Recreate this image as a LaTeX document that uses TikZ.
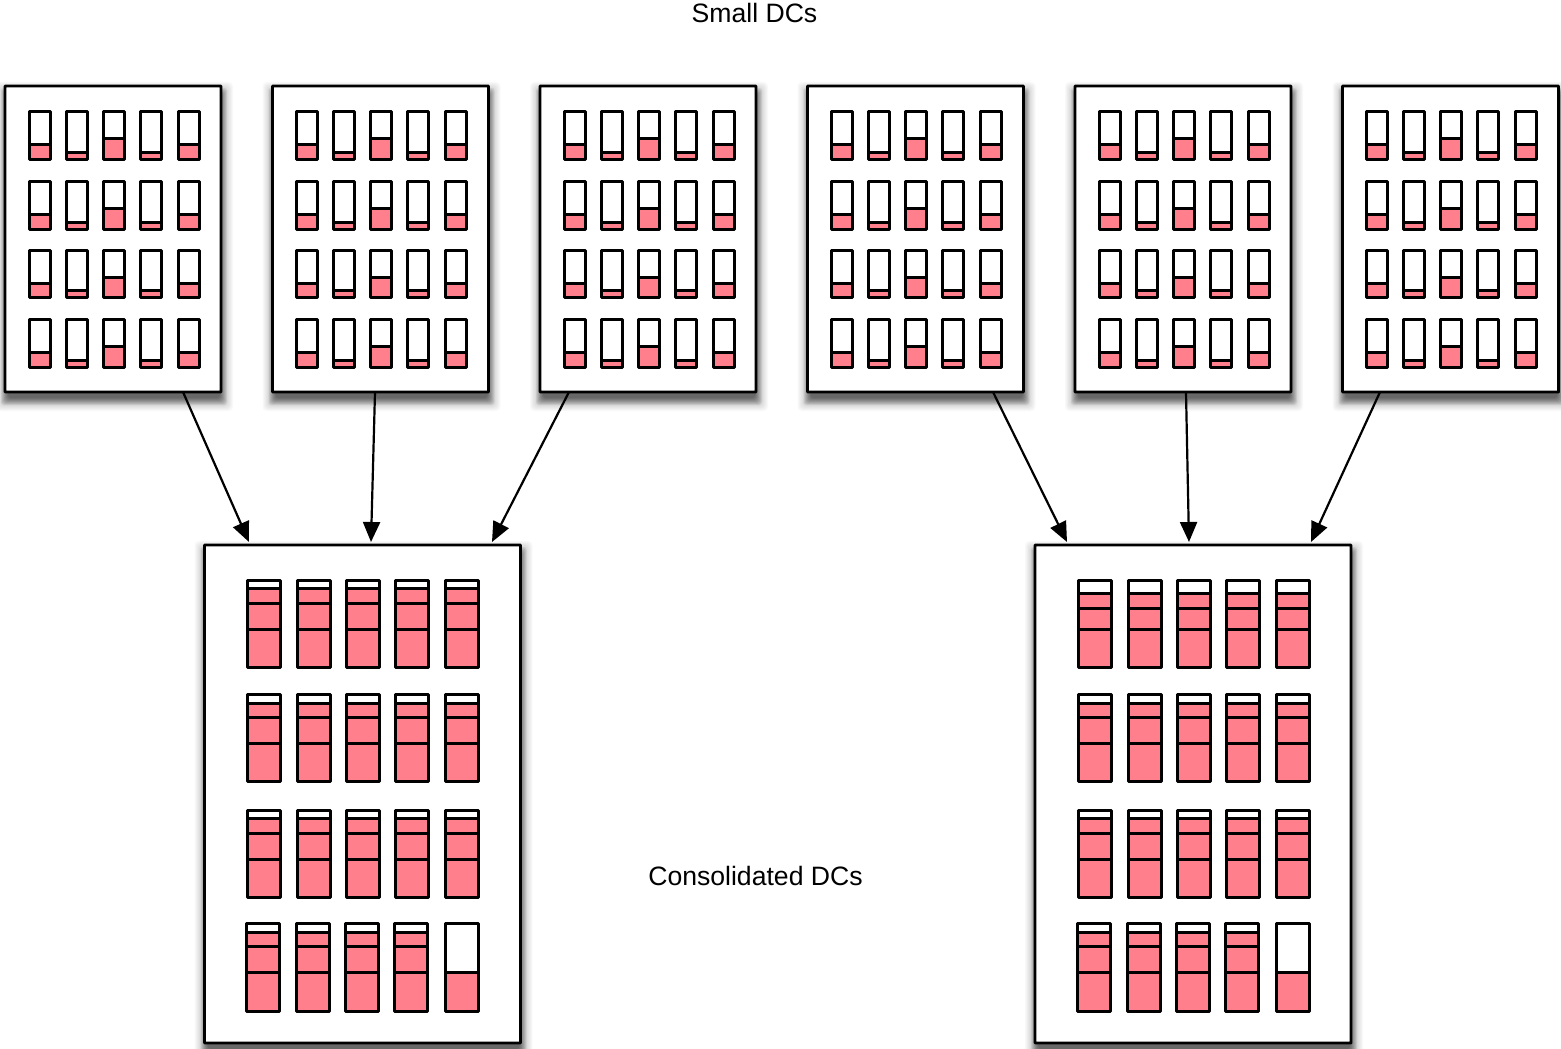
\documentclass[tikz,border=0pt]{standalone}
\usepackage{fontspec}
\setmainfont{Liberation Sans}
\usetikzlibrary{arrows.meta}
\definecolor{rackpink}{HTML}{FF808C}
\tikzset{
  dcbox/.style={draw=black,fill=white,line width=2.8pt,inner sep=0pt,outer sep=0pt,anchor=north west,rounded corners=0.5pt},
  smalldc/.style={dcbox,minimum width=216pt,minimum height=306pt},
  bigdc/.style={dcbox,minimum width=316pt,minimum height=498pt},
  rackline/.style={draw=black,line width=3pt,line join=round},
  smallrackline/.style={draw=black,line width=3pt,line join=round},
  flow/.style={draw=black,line width=2.2pt,-{Triangle[length=20pt,width=17pt]}},
  lbl/.style={font=\fontsize{26.6pt}{30pt}\selectfont,inner sep=0pt}
}
\newcommand{\softshadow}[4]{% x1 y1 x2 y2
  \foreach \r in {12,11,10,9,8,7}{
    \fill[black,opacity=0.025,rounded corners=4pt] (#1-\r+2,#2+8-\r) rectangle (#3+\r,#4+7+\r);
  }
  \foreach \r in {6,5,4,3,2,1,0,-1}{
    \fill[black,opacity=0.085,rounded corners=3pt] (#1-\r+2,#2+8-\r) rectangle (#3+\r,#4+7+\r);
  }
}
\newcommand{\smallrack}[5]{% x1 x2 top bot level
  \fill[white] (#1+1,#3+1) rectangle (#2-1,#4-1);
  \fill[rackpink] (#1+1,#5) rectangle (#2-1,#4-1);
  \draw[smallrackline] (#1+1,#5) -- (#2-1,#5);
  \draw[smallrackline] (#1+1,#3+1) rectangle (#2-1,#4-1);
}
\newcommand{\smalldcfill}[1]{% rack origin = box left edge, whole pixel
  \foreach \top/\bot/\hA/\hB/\hC in {110/160/16/8/22,180/230/16/8/22,249/298/15/8/21,318/368/16/8/22}{
    \smallrack{#1+23}{#1+46}{\top}{\bot}{\bot-\hA}
    \smallrack{#1+60}{#1+83}{\top}{\bot}{\bot-\hB}
    \smallrack{#1+97}{#1+120}{\top}{\bot}{\bot-\hC}
    \smallrack{#1+134}{#1+157}{\top}{\bot}{\bot-\hB}
    \smallrack{#1+172}{#1+195}{\top}{\bot}{\bot-\hA}
  }
}
\newcommand{\bigrack}[6]{% x top bot a b c
  \fill[white] (#1+1,#2+1) rectangle (#1+34,#3-1);
  \fill[rackpink] (#1+1,#4) rectangle (#1+34,#3-1);
  \draw[rackline] (#1+1,#4) -- (#1+34,#4);
  \draw[rackline] (#1+1,#5) -- (#1+34,#5);
  \draw[rackline] (#1+1,#6) -- (#1+34,#6);
  \draw[rackline] (#1+1,#2+1) rectangle (#1+34,#3-1);
}
\newcommand{\bigdcfill}[3]{% first rack x, row 1 levels
  \foreach \o in {0,50,99,148,198}{
    \bigrack{#1+\o}{579}{668}{#2}{#3}{629}
    \bigrack{#1+\o}{693}{782}{703}{717}{743}
    \bigrack{#1+\o}{809}{898}{818}{833}{859}
  }
  \foreach \o in {-1,49,98,147}{
    \bigrack{#1+\o}{922}{1012}{932}{946}{972}
  }
  \fill[white] (#1+199,923) rectangle (#1+232,1011);
  \fill[rackpink] (#1+199,972) rectangle (#1+232,1011);
  \draw[rackline] (#1+199,972) -- (#1+232,972);
  \draw[rackline] (#1+199,923) rectangle (#1+232,1011);
}
\begin{document}
\begin{tikzpicture}[x=1pt,y=-1pt]
\useasboundingbox (0,0) rectangle (1561,1049);
\fill[white] (0,0) rectangle (1561,1049);
\foreach \x in {5,272.5,540,807.5,1075,1342.5}{
  \softshadow{\x}{86}{\x+216}{392}
}
\softshadow{204.5}{545}{520.5}{1043}
\softshadow{1035}{545}{1351}{1043}
\node[smalldc] (s1) at (5,86) {};
\node[smalldc] (s2) at (272.5,86) {};
\node[smalldc] (s3) at (540,86) {};
\node[smalldc] (s4) at (807.5,86) {};
\node[smalldc] (s5) at (1075,86) {};
\node[smalldc] (s6) at (1342.5,86) {};
\node[bigdc] (c1) at (204.5,545) {};
\node[bigdc] (c2) at (1035,545) {};
\foreach \x in {5,272,540,807,1075,1342}{\smalldcfill{\x}}
\bigdcfill{246}{588}{603}
\bigdcfill{1077}{593}{608}
\draw[flow] ([xshift=178pt]s1.south west) -- ([xshift=44.5pt,yshift=3pt]c1.north west);
\draw[flow] ([xshift=102.5pt]s2.south west) -- ([xshift=166.5pt,yshift=3pt]c1.north west);
\draw[flow] ([xshift=29pt]s3.south west) -- ([xshift=287.5pt,yshift=3pt]c1.north west);
\draw[flow] ([xshift=185.5pt]s4.south west) -- ([xshift=32pt,yshift=3pt]c2.north west);
\draw[flow] ([xshift=111pt]s5.south west) -- ([xshift=154pt,yshift=3pt]c2.north west);
\draw[flow] ([xshift=37.5pt]s6.south west) -- ([xshift=276pt,yshift=3pt]c2.north west);
\node[lbl] (smalltitle) at (754.5,13) {Small DCs};
\node[lbl] (bigtitle) at (755.5,876) {Consolidated DCs};
\end{tikzpicture}
\end{document}
